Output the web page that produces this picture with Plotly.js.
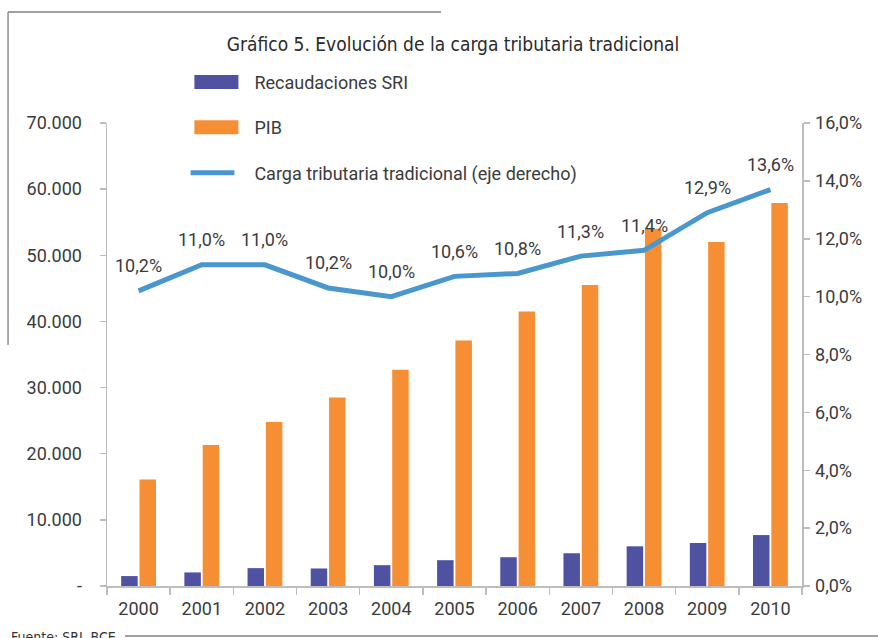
<!DOCTYPE html>
<html>
<head>
<meta charset="utf-8">
<script src="https://cdn.plot.ly/plotly-3.0.1.min.js"></script>
<style>
  html, body { margin: 0; padding: 0; background: #fff; }
  #chart { width: 878px; height: 638px; }
</style>
</head>
<body>
<div id="chart"></div>
<script>
// ---- Data ----
const years = ["2000","2001","2002","2003","2004","2005","2006","2007","2008","2009","2010"];
const recaudacionesSRI = [1500, 2050, 2700, 2650, 3150, 3900, 4350, 4950, 6000, 6500, 7700];
const pib = [16100, 21300, 24800, 28500, 32700, 37100, 41500, 45500, 54000, 52000, 57900];
const cargaTributaria = [10.2, 11.1, 11.1, 10.3, 10.0, 10.7, 10.8, 11.4, 11.6, 12.9, 13.7];
const cargaLabels = ["10,2%","11,0%","11,0%","10,2%","10,0%","10,6%","10,8%","11,3%","11,4%","12,9%","13,6%"];
const leftTickVals = [0, 10000, 20000, 30000, 40000, 50000, 60000, 70000];
const leftTickText = ["-", "10.000", "20.000", "30.000", "40.000", "50.000", "60.000", "70.000"];
const seriesNames = ["Recaudaciones SRI", "PIB", "Carga tributaria tradicional (eje derecho)"];
const titleText = "Gráfico 5. Evolución de la carga tributaria tradicional";
const sourceText = "Fuente: SRI, BCE";

// ---- Styles ----
const BLUE_BAR = "#4F51A1";
const ORANGE = "#F68E33";
const LINE_BLUE = "#4A97CD";
const TEXT = "#3b3b3b";
const AXIS = "#bdbdbd";
const FRAME = "#7f7f7f";
const FONT = "Roboto, 'Liberation Sans', sans-serif";
const NARROW = "'Liberation Sans Narrow', 'DejaVu Sans Condensed', sans-serif";

const traces = [
  {
    type: "bar", name: seriesNames[0], x: years, y: recaudacionesSRI,
    marker: { color: BLUE_BAR }, legendgroup: "a", hoverinfo: "skip"
  },
  {
    type: "bar", name: seriesNames[1], x: years, y: pib,
    marker: { color: ORANGE }, legendgroup: "b", hoverinfo: "skip"
  },
  {
    type: "scatter", mode: "lines", name: seriesNames[2], x: years, y: cargaTributaria,
    yaxis: "y2", line: { color: LINE_BLUE, width: 5 }, legendgroup: "c", hoverinfo: "skip"
  }
];

// data labels: x given as category index so the category axis is not stretched
const labelAnnotations = years.map((yr, i) => ({
  x: i, y: cargaTributaria[i], xref: "x", yref: "y2",
  text: cargaLabels[i], showarrow: false, yshift: 25,
  font: { family: FONT, size: 18, color: TEXT }
}));

const layout = {
  width: 878, height: 638,
  margin: { l: 107, r: 76, t: 123, b: 52 },
  paper_bgcolor: "#ffffff", plot_bgcolor: "#ffffff",
  separators: ",.",
  font: { family: FONT, size: 18, color: TEXT },
  title: {
    text: titleText,
    font: { family: NARROW, size: 19, color: "#2a2a2a" },
    x: 0.516, xanchor: "center", xref: "container",
    y: 0.93, yanchor: "middle", yref: "container"
  },
  barmode: "group", bargap: 0.42, bargroupgap: 0.1,
  showlegend: true,
  legend: {
    x: 0.12, xanchor: "left", y: 1.128, yanchor: "top",
    bgcolor: "rgba(0,0,0,0)", font: { family: FONT, size: 18, color: TEXT },
    itemwidth: 54, tracegroupgap: 19, traceorder: "grouped"
  },
  xaxis: {
    type: "category", showgrid: false, zeroline: false,
    showline: true, linecolor: AXIS, linewidth: 1.5,
    ticks: "outside", tickson: "boundaries", ticklen: 7, tickcolor: AXIS, tickwidth: 1.5,
    tickfont: { family: FONT, size: 18, color: TEXT }, ticklabelstandoff: 6
  },
  yaxis: {
    range: [0, 70000], showgrid: false, zeroline: false,
    showline: true, linecolor: AXIS, linewidth: 1.5,
    ticks: "outside", ticklen: 6, tickcolor: AXIS, tickwidth: 1.5,
    tickvals: leftTickVals, ticktext: leftTickText,
    tickfont: { family: FONT, size: 18, color: TEXT }, ticklabelstandoff: 14
  },
  yaxis2: {
    overlaying: "y", side: "right", range: [0, 16], dtick: 2,
    tickformat: ".1f", ticksuffix: "%",
    showgrid: false, zeroline: false,
    showline: true, linecolor: AXIS, linewidth: 1.5,
    ticks: "outside", ticklen: 6, tickcolor: AXIS, tickwidth: 1.5,
    tickfont: { family: FONT, size: 18, color: TEXT }, ticklabelstandoff: 2
  },
  shapes: [
    { type: "line", xref: "paper", yref: "paper", x0: -0.1424, x1: 0.4806, y0: 1.2397, y1: 1.2397,
      line: { color: FRAME, width: 1.3 } },
    { type: "line", xref: "paper", yref: "paper", x0: -0.1424, x1: -0.1424, y0: 1.2397, y1: 0.5205,
      line: { color: FRAME, width: 1.3 } },
    { type: "line", xref: "paper", yref: "paper", x0: 0.026, x1: 1.11, y0: -0.108, y1: -0.108,
      line: { color: FRAME, width: 1.3 } }
  ],
  annotations: labelAnnotations.concat([
    { xref: "paper", yref: "paper", x: -0.141, y: -0.0886, xanchor: "left", yanchor: "top",
      text: sourceText, showarrow: false,
      font: { family: NARROW, size: 14, color: "#333" } }
  ])
};

Plotly.newPlot("chart", traces, layout, { displayModeBar: false, staticPlot: true }).then(function (gd) {
  // enlarge legend swatches to the wide rectangles of the reference
  gd.querySelectorAll(".legend .legendpoints path").forEach(function (p) {
    const d = p.getAttribute("d") || "";
    if (/^M6,6H-6V-6H6Z$/.test(d)) {
      p.setAttribute("d", "M16,7H-28V-7H16Z");
    }
  });
  gd.querySelectorAll(".legend .legendlines path").forEach(function (p) {
    p.setAttribute("d", "M0,0h44");
  });
});
</script>
</body>
</html>
